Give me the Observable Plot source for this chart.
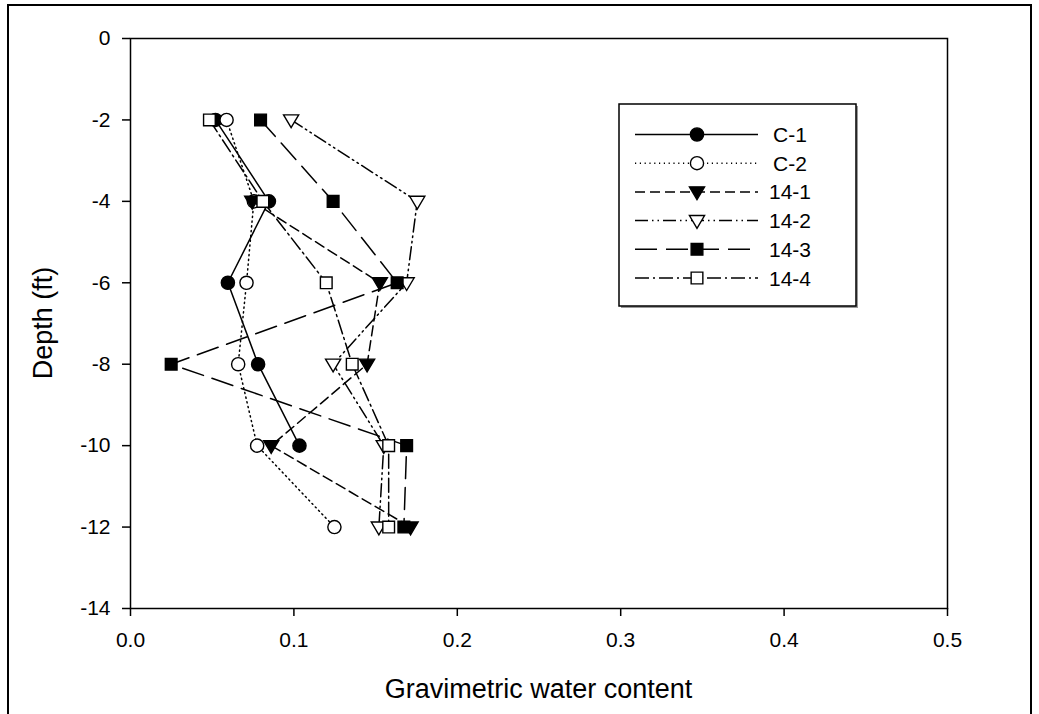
<!DOCTYPE html>
<html>
<head>
<meta charset="utf-8">
<script src="https://cdn.jsdelivr.net/npm/d3@7"></script>
<script src="https://cdn.jsdelivr.net/npm/@observablehq/plot@0.6"></script>
<style>
  html, body { margin: 0; padding: 0; background: white; overflow: hidden; }
  #chart { position: relative; width: 1039px; height: 714px; }
</style>
</head>
<body>
<div id="chart"></div>
<script>
// ---- data ----
const seriesNames = ["C-1", "C-2", "14-1", "14-2", "14-3", "14-4"];
const depthC1 = [-2, -4, -6, -8, -10];
const depthC2 = [-2, -4, -6, -8, -10, -12];
const depth141 = [-4, -6, -8, -10, -12];
const depth142 = [-2, -4, -6, -8, -10, -12];
const depth143 = [-2, -4, -6, -8, -10, -12];
const depth144 = [-2, -4, -6, -8, -10, -12];
const waterC1 = [0.052, 0.0847, 0.0596, 0.0781, 0.1034];
const waterC2 = [0.0588, 0.0755, 0.071, 0.0659, 0.0775, 0.1248];
const water141 = [0.0745, 0.1526, 0.1448, 0.0861, 0.1714];
const water142 = [0.0983, 0.1755, 0.169, 0.124, 0.155, 0.152];
const water143 = [0.0796, 0.124, 0.1632, 0.0249, 0.169, 0.1673];
const water144 = [0.0483, 0.081, 0.1198, 0.1357, 0.158, 0.158];
const xTicks = [0, 0.1, 0.2, 0.3, 0.4, 0.5];
const yTicks = [0, -2, -4, -6, -8, -10, -12, -14];
const xTitle = "Gravimetric water content";
const yTitle = "Depth (ft)";

// ---- styles ----
const triangleDown = {
  draw(ctx, size) {
    const r = Math.sqrt(size / Math.PI);
    const w = r * 1.08;
    ctx.moveTo(-w, -r * 0.72);
    ctx.lineTo(w, -r * 0.72);
    ctx.lineTo(0, r * 1.1);
    ctx.closePath();
  }
};
const depthsAll = [depthC1, depthC2, depth141, depth142, depth143, depth144];
const watersAll = [waterC1, waterC2, water141, water142, water143, water144];
const dashes = ["none", "1.2,3.6", "10,5", "13,4,1.5,4,1.5,4", "22,9", "14,4,2,4"];
const symbols = [d3.symbolCircle, d3.symbolCircle, triangleDown, triangleDown, d3.symbolSquare, d3.symbolSquare];
const symbolR = [6.6, 6.6, 7, 7, 6.6, 6.6];
const fills = ["black", "white", "black", "white", "black", "white"];

const series = seriesNames.map((name, i) => ({
  name,
  data: depthsAll[i].map((d, j) => ({ depth: d, water: watersAll[i][j] })),
  dash: dashes[i], symbol: symbols[i], r: symbolR[i], fill: fills[i]
}));

const font = "'Liberation Sans', Arial, Helvetica, sans-serif";
const W = 1039, H = 714;
const mL = 130, mR = 92, mT = 38, mB = 106;

const marks = [];
for (const s of series) {
  marks.push(Plot.line(s.data, { x: "water", y: "depth", stroke: "black", strokeWidth: 1.5,
    strokeDasharray: s.dash === "none" ? undefined : s.dash }));
  marks.push(Plot.dot(s.data, { x: "water", y: "depth", symbol: s.symbol, r: s.r,
    fill: s.fill, stroke: "black", strokeWidth: 1.4 }));
}

const plot = Plot.plot({
  width: W, height: H,
  marginLeft: mL, marginRight: mR, marginTop: mT, marginBottom: mB,
  style: { fontFamily: font, fontSize: "21px", background: "transparent", color: "black", overflow: "visible" },
  x: { domain: [0, 0.5] },
  y: { domain: [-14, 0] },
  marks: [
    Plot.axisX({ ticks: xTicks, tickFormat: d3.format(".1f"), tickSize: 8, tickPadding: 16, label: null, strokeWidth: 1.5, fontSize: 21 }),
    Plot.axisY({ ticks: yTicks, tickFormat: d => String(d).replace("\u2212", "-"), tickSize: 8, tickPadding: 12, label: null, strokeWidth: 1.5, fontSize: 21 }),
    Plot.frame({ stroke: "black", strokeWidth: 1.5 }),
    ...marks
  ]
});

document.getElementById("chart").appendChild(plot);
const svg = d3.select(plot);

// outer border
svg.insert("rect", ":first-child")
  .attr("x", 8).attr("y", 5).attr("width", 1023).attr("height", 740)
  .attr("fill", "white").attr("stroke", "black").attr("stroke-width", 2);

// axis titles
const xs = plot.scale("x"), ys = plot.scale("y");
const cx = (xs.apply(0) + xs.apply(0.5)) / 2;
const cy = (ys.apply(0) + ys.apply(-14)) / 2;
svg.append("text").attr("x", cx).attr("y", 689).attr("text-anchor", "middle")
  .attr("dominant-baseline", "central").attr("font-family", font).attr("font-size", 27)
  .attr("fill", "black").text(xTitle);
svg.append("text").attr("transform", `translate(43,${cy}) rotate(-90)`).attr("text-anchor", "middle")
  .attr("dominant-baseline", "central").attr("font-family", font).attr("font-size", 27)
  .attr("fill", "black").text(yTitle);

// legend
const lg = svg.append("g");
const bx = 619, by = 104, bw = 237, bh = 202;
lg.append("rect").attr("x", bx + 2).attr("y", by + 2).attr("width", bw).attr("height", bh).attr("fill", "#999");
lg.append("rect").attr("x", bx).attr("y", by).attr("width", bw).attr("height", bh)
  .attr("fill", "white").attr("stroke", "black").attr("stroke-width", 1.5);
series.forEach((s, i) => {
  const yy = 134.5 + i * 28.7;
  lg.append("line").attr("x1", 635).attr("x2", 758).attr("y1", yy).attr("y2", yy)
    .attr("stroke", "black").attr("stroke-width", 1.5)
    .attr("stroke-dasharray", s.dash === "none" ? null : s.dash);
  lg.append("path").attr("transform", `translate(697,${yy})`)
    .attr("d", d3.symbol(s.symbol, s.r * s.r * Math.PI)())
    .attr("fill", s.fill).attr("stroke", "black").attr("stroke-width", 1.4);
  lg.append("text").attr("x", 790).attr("y", yy).attr("dominant-baseline", "central")
    .attr("font-family", font).attr("font-size", 21).attr("fill", "black").text(s.name);
});
</script>
</body>
</html>
